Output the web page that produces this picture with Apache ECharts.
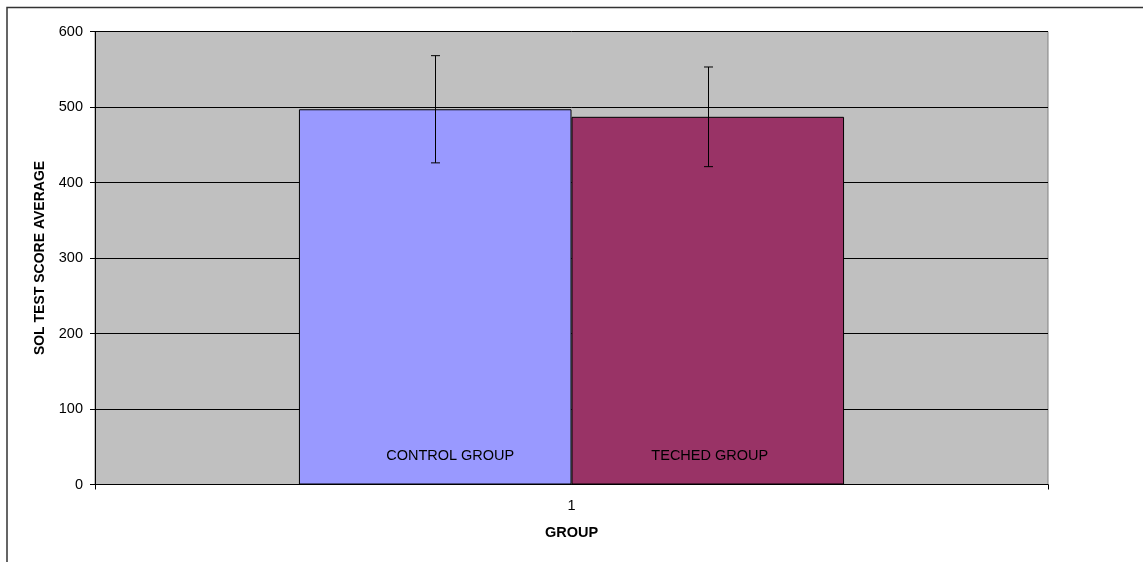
<!DOCTYPE html>
<html>
<head>
<meta charset="utf-8">
<script src="https://cdn.jsdelivr.net/npm/echarts@6/dist/echarts.min.js"></script>
<style>
html,body{margin:0;padding:0;background:#fff;}
#c{width:1143px;height:562px;}
</style>
</head>
<body>
<div id="c"></div>
<script>
var categories = ['1'];
var seriesNames = ['CONTROL GROUP', 'TECHED GROUP'];
var controlValues = [497];
var techedValues = [487];
var controlErr = [71];
var techedErr = [66];
var yTicks = [0, 100, 200, 300, 400, 500, 600];

var chart = echarts.init(document.getElementById('c'));
var FONT = 'Liberation Sans, Arial, sans-serif';

function errSeries(values, errs, offsetFrac) {
  return {
    type: 'custom',
    silent: true,
    z: 10,
    data: values.map(function (v, i) { return [i, v - errs[i], v + errs[i]]; }),
    renderItem: function (params, api) {
      var band = api.size([1, 0])[0];
      var lo = api.coord([api.value(0), api.value(1)]);
      var hi = api.coord([api.value(0), api.value(2)]);
      var x = Math.round(lo[0] + band * offsetFrac) + 0.5;
      var cap = 4.5;
      var st = { stroke: '#000', lineWidth: 1 };
      return {
        type: 'group',
        children: [
          { type: 'line', shape: { x1: x, y1: hi[1], x2: x, y2: lo[1] }, style: st },
          { type: 'line', shape: { x1: x - cap, y1: hi[1], x2: x + cap, y2: hi[1] }, style: st },
          { type: 'line', shape: { x1: x - cap, y1: lo[1], x2: x + cap, y2: lo[1] }, style: st }
        ]
      };
    }
  };
}

var barLabel = function (name, dx) {
  return {
    show: true,
    position: 'insideBottom',
    distance: 21,
    offset: [dx, 0],
    formatter: name,
    color: '#000',
    fontFamily: FONT,
    fontSize: 14.5
  };
};

chart.setOption({
  animation: false,
  backgroundColor: '#fff',
  graphic: [{
    type: 'rect',
    shape: { x: 7, y: 7.5, width: 1300, height: 700 },
    style: { fill: 'none', stroke: '#333', lineWidth: 1.5 },
    silent: true
  }],
  grid: {
    left: 95, right: 95, top: 31.5, bottom: 77.5,
    show: true,
    backgroundColor: '#C0C0C0',
    borderColor: '#808080',
    borderWidth: 1
  },
  xAxis: {
    type: 'category',
    data: categories,
    name: 'GROUP',
    nameLocation: 'middle',
    nameGap: 41,
    nameTextStyle: { fontFamily: FONT, fontSize: 14.5, fontWeight: 'bold', color: '#000' },
    axisLine: { lineStyle: { color: '#000', width: 1 } },
    axisTick: { show: true, length: 5, lineStyle: { color: '#000' } },
    axisLabel: { fontFamily: FONT, fontSize: 14.5, color: '#000', margin: 14 },
    splitLine: { show: false }
  },
  yAxis: {
    type: 'value',
    min: yTicks[0],
    max: yTicks[yTicks.length - 1],
    interval: yTicks[1] - yTicks[0],
    name: 'SOL TEST SCORE AVERAGE',
    nameLocation: 'middle',
    nameGap: 48,
    nameRotate: 90,
    nameTextStyle: { fontFamily: FONT, fontSize: 14, fontWeight: 'bold', color: '#000' },
    axisLine: { show: true, lineStyle: { color: '#000', width: 1 } },
    axisTick: { show: true, length: 5, lineStyle: { color: '#000' } },
    axisLabel: { fontFamily: FONT, fontSize: 14.5, color: '#000', margin: 12 },
    splitLine: { show: true, lineStyle: { color: '#000', width: 1 } }
  },
  series: [
    {
      name: seriesNames[0],
      type: 'bar',
      data: controlValues,
      barWidth: '28.6%',
      barGap: '0%',
      itemStyle: { color: '#9999FF', borderColor: '#000', borderWidth: 1 },
      label: barLabel(seriesNames[0], 15)
    },
    {
      name: seriesNames[1],
      type: 'bar',
      data: techedValues,
      barWidth: '28.6%',
      barGap: '0%',
      itemStyle: { color: '#993366', borderColor: '#000', borderWidth: 1 },
      label: barLabel(seriesNames[1], 2)
    },
    errSeries(controlValues, controlErr, -0.143),
    errSeries(techedValues, techedErr, 0.143)
  ]
});
</script>
</body>
</html>
